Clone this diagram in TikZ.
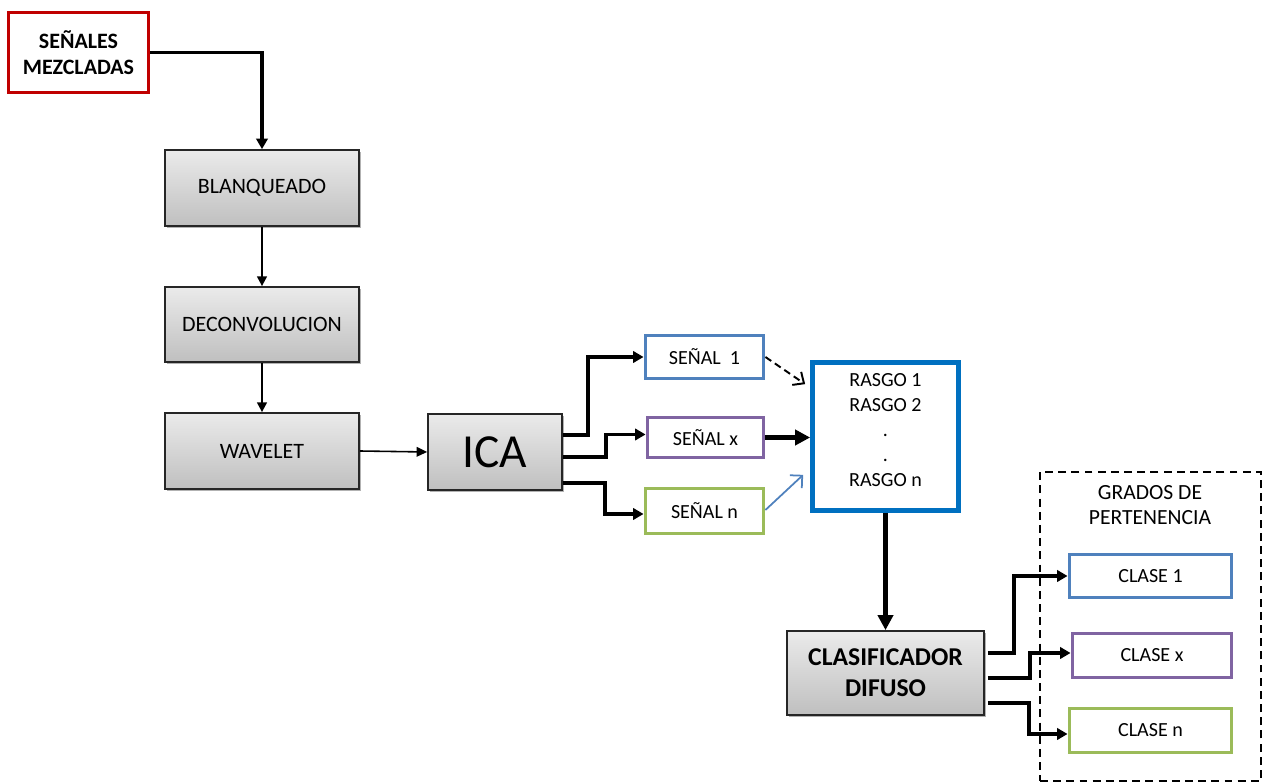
\documentclass[tikz,border=0pt]{standalone}
\usepackage{fontspec}
\setmainfont{Carlito}
\usetikzlibrary{arrows.meta,calc,shadows}
\definecolor{cred}{HTML}{C00000}
\definecolor{cblue}{HTML}{4F81BD}
\definecolor{cpurple}{HTML}{8064A2}
\definecolor{cgreen}{HTML}{9BBB59}
\definecolor{crasgo}{HTML}{0070C0}
\begin{document}
\begin{tikzpicture}[x=0.02cm,y=-0.02cm,
  gbox/.style={draw=black!85,line width=1pt,top color=gray!16,bottom color=gray!50,inner sep=0pt,align=center,
    font=\fontsize{12.5}{14}\selectfont,
    drop shadow={shadow xshift=1.2pt,shadow yshift=-1.2pt,opacity=0.3,fill=black}},
  cbox/.style={draw=#1,line width=2.2pt,fill=white,inner sep=0pt,align=center,font=\fontsize{11.4}{14}\selectfont},
  arr/.style={line width=2.1pt,-{Triangle[length=6pt,width=6.5pt]}},
  thinarr/.style={line width=1.1pt,-{Triangle[length=5.5pt,width=5.5pt]}},
  thickarr/.style={line width=3.2pt,-{Triangle[length=8.5pt,width=8.5pt]}},
]
\useasboundingbox (0,0) rectangle (1262,783);

% nodes
\node[draw=cred,line width=2.2pt,fill=white,inner sep=0pt,align=center,
      minimum width=2.80cm,minimum height=1.60cm,
      font=\fontsize{12.5}{14.7}\selectfont\bfseries] (mez) at (78.5,52.5) {SEÑALES\\MEZCLADAS};
\node[gbox,minimum width=3.88cm,minimum height=1.52cm] (blq) at (262,188) {BLANQUEADO};
\node[gbox,minimum width=3.88cm,minimum height=1.50cm] (dec) at (262,324.5) {DECONVOLUCION};
\node[gbox,minimum width=3.88cm,minimum height=1.52cm] (wav) at (262,451) {WAVELET};
\node[gbox,minimum width=2.68cm,minimum height=1.52cm,font=\fontsize{27}{30}\selectfont] (ica) at (495,452) {ICA};

\node[cbox=cblue,minimum width=2.36cm,minimum height=0.86cm] (s1) at (704.5,357) {SEÑAL\ \ 1};
\node[cbox=cpurple,minimum width=2.32cm,minimum height=0.80cm] (sx) at (705.5,437.5) {SEÑAL x};
\node[cbox=cgreen,minimum width=2.36cm,minimum height=0.90cm] (sn) at (704.5,511) {SEÑAL n};

\node[draw=crasgo,line width=2.7pt,fill=white,inner sep=0pt,align=center,
      minimum width=2.92cm,minimum height=2.96cm,font=\fontsize{11.4}{14.2}\selectfont] (ras) at (885.5,436.5)
      {\raisebox{0cm}[0pt][0pt]{\begin{tabular}{@{}c@{}}RASGO 1\\RASGO 2\\.\\.\\RASGO n\end{tabular}}};

\node[gbox,minimum width=3.94cm,minimum height=1.68cm,font=\fontsize{14.6}{17.5}\selectfont\bfseries] (cla) at (885.5,673) {CLASIFICADOR\\DIFUSO};

\node[draw,line width=0.9pt,dash pattern=on 4.5pt off 3pt,inner sep=0pt,minimum width=4.42cm,minimum height=6.18cm] (grp) at (1150.5,626.5) {};
\node[align=center,font=\fontsize{12.3}{14.7}\selectfont] (grados) at (1150,505) {GRADOS DE\\PERTENENCIA};

\node[cbox=cblue,minimum width=3.24cm,minimum height=0.86cm] (c1) at (1150.5,576) {CLASE 1};
\node[cbox=cpurple,minimum width=3.18cm,minimum height=0.88cm] (cx) at (1152,655.5) {CLASE x};
\node[cbox=cgreen,minimum width=3.24cm,minimum height=0.88cm] (cn) at (1150.5,730.5) {CLASE n};

% connectors
\draw[arr] (mez.east) -| (blq.north);
\draw[thinarr] (blq.south) -- (dec.north);
\draw[thinarr] (dec.south) -- (wav.north);
\draw[line width=0.9pt,-{Triangle[length=6pt,width=5.5pt]}] (wav.east) -- (ica.west);

\draw[arr] ($(ica.east)+(0,-17)$) -- ++(25,0) |- (s1.west);
\draw[arr] ($(ica.east)+(0,5)$) -- ++(43,0) |- ($(sx.west)+(0,-3)$);
\draw[arr] ($(ica.east)+(0,31)$) -- ++(42,0) |- ($(sn.west)+(0,3)$);

\draw[line width=1.1pt,dash pattern=on 4pt off 2.5pt,-{Straight Barb[length=5pt,width=9pt]}] (s1.east) -- ($(ras.north west)+(-5,24)$);
\draw[thickarr] (sx.east) -- (sx.east -| ras.west);
\draw[cblue,line width=1pt,-{Straight Barb[length=5pt,width=10pt]}] ($(sn.east)+(0,-1)$) -- ($(ras.south west)+(-7,-38)$);

\draw[thickarr] (ras.south) -- (cla.north);

\draw[arr] ($(cla.east)+(3,-20)$) -- ++(26,0) |- (c1.west);
\draw[arr] ($(cla.east)+(3,5)$) -- ++(42,0) |- ($(cx.west)+(0,-2.5)$);
\draw[arr] ($(cla.east)+(3,30)$) -- ++(41,0) |- ($(cn.west)+(0,3.5)$);
\end{tikzpicture}
\end{document}
